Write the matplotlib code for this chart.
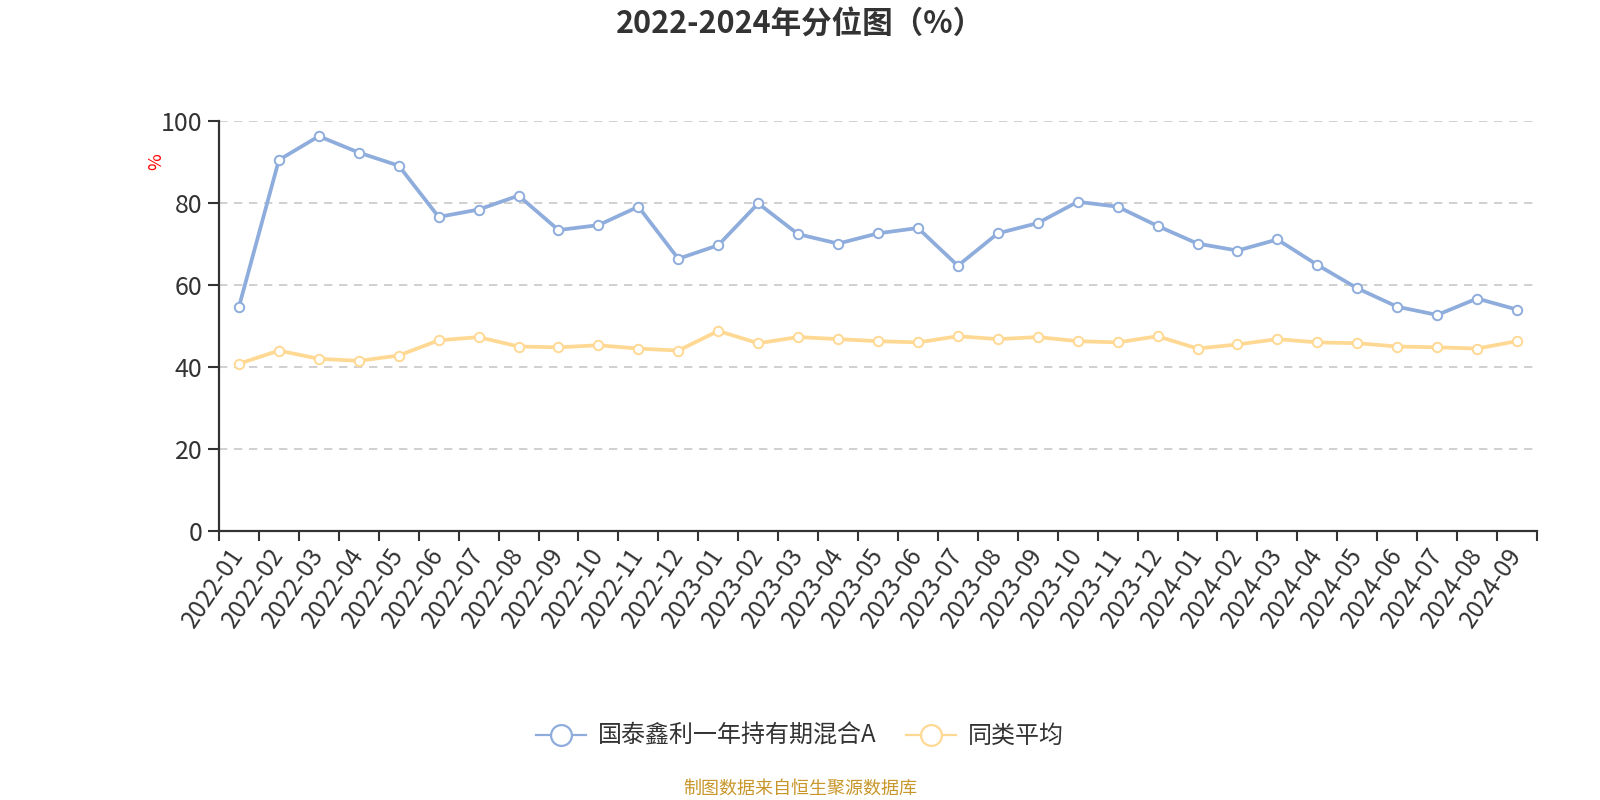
import numpy as np
import matplotlib
matplotlib.use("Agg")
import matplotlib.pyplot as plt
from matplotlib.lines import Line2D

plt.rcParams['font.family'] = ['Noto Sans CJK SC', 'DejaVu Sans']

categories = ['2022-01', '2022-02', '2022-03', '2022-04', '2022-05', '2022-06',
              '2022-07', '2022-08', '2022-09', '2022-10', '2022-11', '2022-12',
              '2023-01', '2023-02', '2023-03', '2023-04', '2023-05', '2023-06',
              '2023-07', '2023-08', '2023-09', '2023-10', '2023-11', '2023-12',
              '2024-01', '2024-02', '2024-03', '2024-04', '2024-05', '2024-06',
              '2024-07', '2024-08', '2024-09']

fund_values = [54.7, 90.5, 96.3, 92.3, 89.1, 76.6, 78.4, 81.8, 73.4, 74.6, 79.1, 66.4,
               69.7, 79.9, 72.4, 70.1, 72.6, 73.9, 64.7, 72.6, 75.1, 80.3, 79.1, 74.4,
               70.1, 68.4, 71.1, 64.9, 59.2, 54.7, 52.7, 56.7, 54.0]

peer_values = [40.8, 44.0, 42.0, 41.5, 42.8, 46.5, 47.3, 45.0, 44.8, 45.3, 44.5, 44.0,
               48.8, 45.8, 47.3, 46.8, 46.3, 46.0, 47.5, 46.8, 47.3, 46.3, 46.0, 47.5,
               44.5, 45.5, 46.8, 46.0, 45.8, 45.0, 44.8, 44.5, 46.3]

series_names = ['国泰鑫利一年持有期混合A', '同类平均']
y_ticks = [0, 20, 40, 60, 80, 100]

title_text = '2022-2024年分位图（%）'
y_unit = '%'
footer_text = '制图数据来自恒生聚源数据库'

BLUE = '#8eacdc'
YELLOW = '#ffd993'
AXIS = '#333333'

fig = plt.figure(figsize=(16, 8), dpi=100)
ax = fig.add_axes([219 / 1600, 1 - 531 / 800, (1537 - 219) / 1600, (531 - 121) / 800])

x = np.arange(len(categories))
for vals, col in [(fund_values, BLUE), (peer_values, YELLOW)]:
    ax.plot(x, vals, color=col, lw=2.7, marker='o', markersize=6.8,
            markerfacecolor='white', markeredgecolor=col, markeredgewidth=1.4,
            zorder=3, solid_joinstyle='round')

ax.set_xlim(-0.5, len(categories) - 0.5)
ax.set_ylim(0, 100)
ax.set_yticks(y_ticks)
ax.set_yticklabels([str(v) for v in y_ticks])

# category labels at centres, tick marks at band boundaries
ax.set_xticks(x)
ax.set_xticklabels(categories, rotation=56, ha='right', va='center',
                   rotation_mode='anchor')
ax.set_xticks(np.arange(len(categories) + 1) - 0.5, minor=True)
ax.tick_params(axis='x', which='major', length=0, pad=14, labelsize=17.5, labelcolor=AXIS)
ax.tick_params(axis='x', which='minor', length=7, width=1.5, color=AXIS)
ax.tick_params(axis='y', which='major', length=8, width=1.5, color=AXIS,
               pad=4, labelsize=18, labelcolor=AXIS)

ax.grid(axis='y', color='#c8c8c8', linestyle=(0, (5, 4)), linewidth=1.2, zorder=0)
ax.grid(axis='x', visible=False)

for side in ['top', 'right']:
    ax.spines[side].set_visible(False)
for side in ['left', 'bottom']:
    ax.spines[side].set_color(AXIS)
    ax.spines[side].set_linewidth(1.6)

fig.text(156 / 1600, 1 - 162 / 800, y_unit, color='red', fontsize=13,
         rotation=90, ha='center', va='center')

fig.text(0.5, 0.971, title_text, ha='center', va='center', fontsize=22,
         fontweight='bold', color=AXIS)

handles = [Line2D([0], [0], color=BLUE, lw=1.6, marker='o', markersize=15,
                  markerfacecolor='white', markeredgecolor=BLUE, markeredgewidth=1.6),
           Line2D([0], [0], color=YELLOW, lw=1.6, marker='o', markersize=15,
                  markerfacecolor='white', markeredgecolor=YELLOW, markeredgewidth=1.6)]
leg = fig.legend(handles, series_names, loc='center', bbox_to_anchor=(0.5, 0.08),
                 ncol=2, frameon=False, fontsize=17.3, handlelength=2.1,
                 handletextpad=0.5, columnspacing=1.2)
for t in leg.get_texts():
    t.set_color(AXIS)

fig.text(0.5, 0.014, footer_text, ha='center', va='center', fontsize=13,
         color='#c8962a')

fig.savefig('out.png', dpi=100, facecolor='white')
